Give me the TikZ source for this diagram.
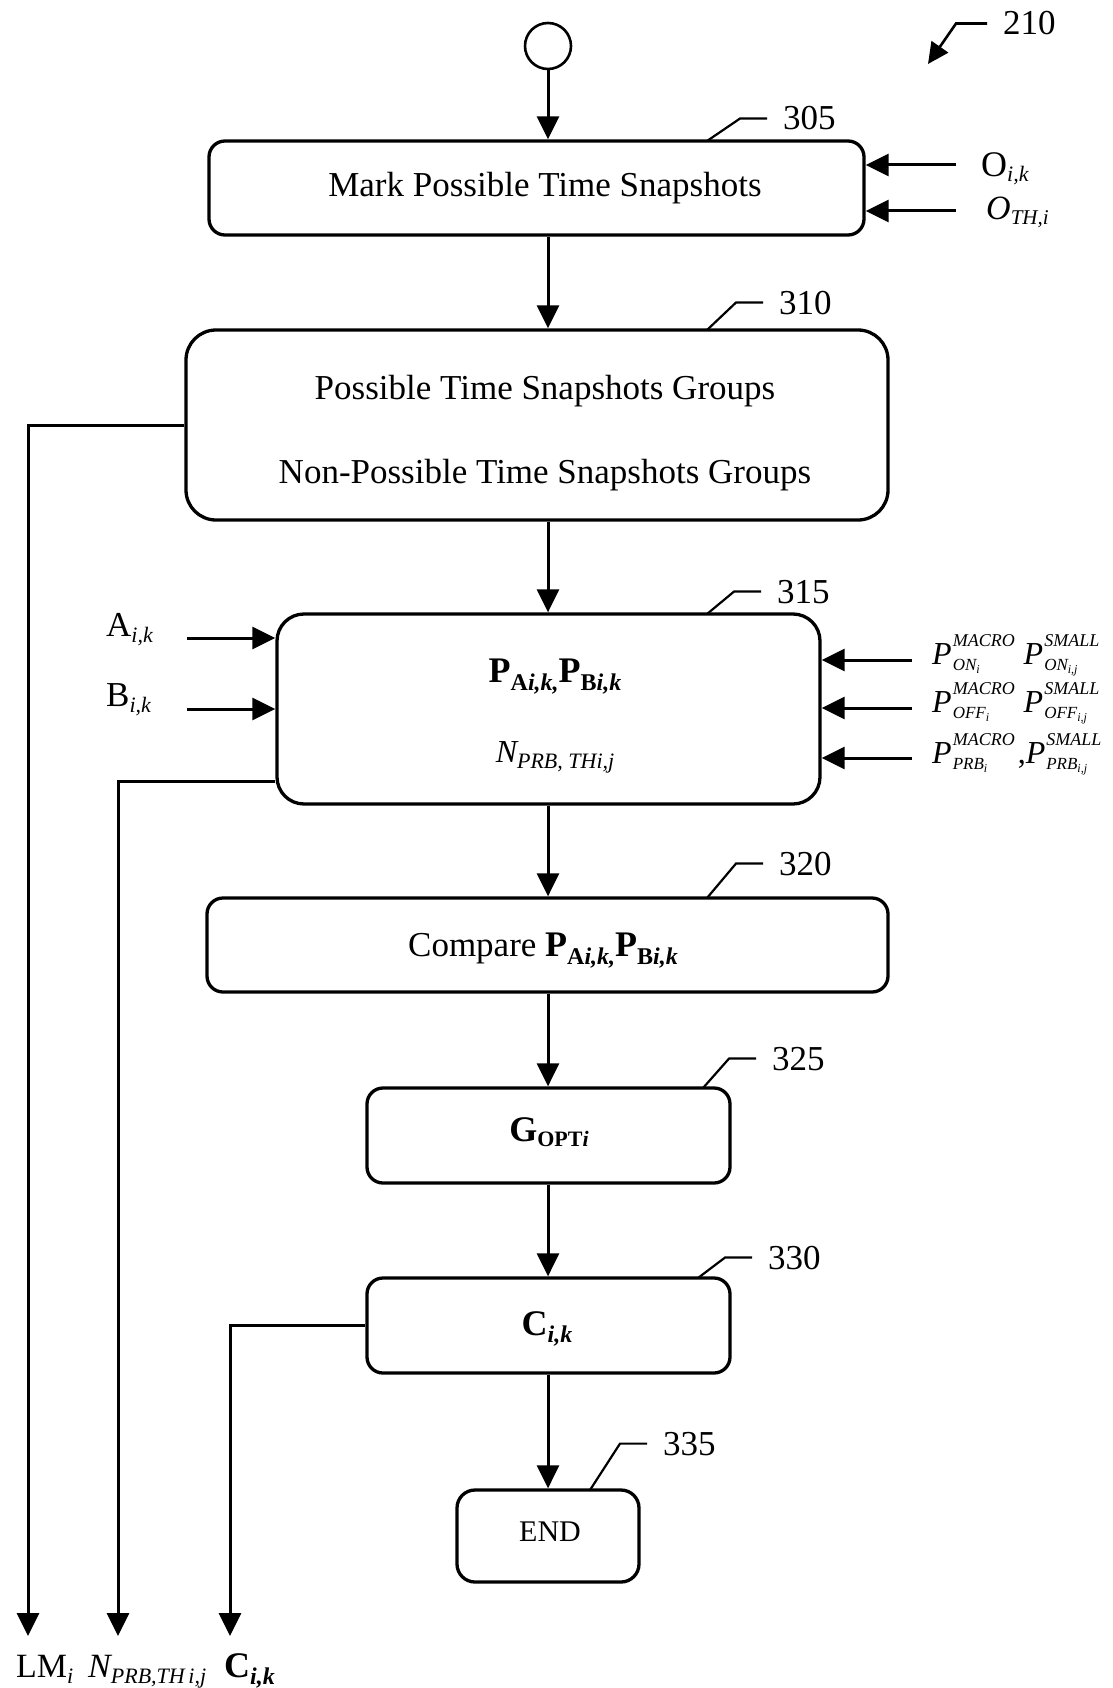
\documentclass[tikz,border=0pt]{standalone}
\usepackage{fontspec}
\setmainfont{Liberation Serif}
\usetikzlibrary{arrows.meta}
% font size shortcut and lowered subscript
\newcommand\fs[1]{\fontsize{#1}{#1}\selectfont}
\newcommand\lo[2]{\raisebox{-#1pt}{#2}}
% stacked superscript / subscript
\newcommand\supsub[2]{%
  \setbox0=\hbox{#1}\setbox2=\hbox{#2}%
  \ifdim\wd0>\wd2\relax\dimen0=\wd0\else\dimen0=\wd2\fi
  \rlap{\raisebox{18pt}{\box0}}\rlap{\raisebox{-6pt}{\box2}}\hspace{\dimen0}}
\newcommand\PSS[3]{{\fs{32}\itshape P}\hspace{1pt}\supsub{\fs{18}\itshape #1}{\fs{17}\itshape #2\lo{3}{\fs{12}\itshape #3}}}
\newcommand\PAB{{\bfseries P}\lo{8}{\fs{24}\bfseries A\itshape i,k,}{\bfseries P}\lo{8}{\fs{24}\bfseries B\itshape i,k}}
\begin{document}
\begin{tikzpicture}[x=1pt,y=-1pt,
  box/.style={draw,line width=3.3pt,rounded corners=16pt,inner sep=0pt},
  bigbox/.style={box,rounded corners=30pt},
  txt/.style={inner sep=0pt,anchor=base,font=\fs{35}},
  lbl/.style={inner sep=0pt,anchor=base west,font=\fs{35}},
  conn/.style={line width=3pt,-{Triangle[length=23pt,width=22pt]}},
  lead/.style={line width=2.2pt}]
\useasboundingbox (0,0) rectangle (1112,1688);

% start terminal
\node[draw,circle,line width=2.6pt,minimum size=46pt,inner sep=0pt] (start) at (548,46) {};

% process boxes
\node[box,minimum width=655pt,minimum height=94pt] (b305) at (536.5,188) {};
\node[bigbox,minimum width=702pt,minimum height=190pt] (b310) at (537,425) {};
\node[bigbox,rounded corners=27pt,minimum width=543pt,minimum height=190pt] (b315) at (548.5,709) {};
\node[box,minimum width=681pt,minimum height=94pt] (b320) at (547.5,945) {};
\node[box,minimum width=363pt,minimum height=95pt] (b325) at (548.5,1135.5) {};
\node[box,minimum width=363pt,minimum height=95pt] (b330) at (548.5,1325.5) {};
\node[box,rounded corners=18pt,minimum width=182pt,minimum height=92pt] (b335) at (548,1536) {};

% box contents
\node[txt] (t305) at (545,197) {Mark Possible Time Snapshots};
\node[txt] (t310a) at (545,399) {Possible Time Snapshots Groups};
\node[txt] (t310b) at (545,483) {Non-Possible Time Snapshots Groups};
\node[txt,font=\fs{36}] (t315a) at (555,682) {\PAB};
\node[txt,font=\fs{32}] (t315b) at (555,762) {\itshape N\lo{6}{\fs{22}\itshape PRB, THi,j}};
\node[txt] (t320) at (543,956) {Compare {\fs{36}\PAB}};
\node[txt,font=\fs{36}] (t325) at (549,1141) {{\bfseries G}\lo{5}{\fs{22}\bfseries OPT\itshape i}};
\node[txt,font=\fs{36}] (t330) at (547,1335) {{\bfseries C}\lo{7}{\fs{24}\bfseries\itshape i,k}};
\node[txt,font=\fs{30}] (t335) at (550,1541) {END};

% main flow
\draw[conn] (start) -- (start |- b305.north);
\draw[conn] (start |- b305.south) -- (start |- b310.north);
\draw[conn] (start |- b310.south) -- (start |- b315.north);
\draw[conn] (start |- b315.south) -- (start |- b320.north);
\draw[conn] (start |- b320.south) -- (start |- b325.north);
\draw[conn] (start |- b325.south) -- (start |- b330.north);
\draw[conn] (start |- b330.south) -- (start |- b335.north);

% inputs to 305
\coordinate (inO) at (956,165);
\coordinate (inOT) at (956,211);
\draw[conn] (inO) -- (inO -| b305.east);
\draw[conn] (inOT) -- (inOT -| b305.east);
\node[lbl,font=\fs{36}] (lO) at (981,177) {O\lo{5}{\fs{22}\itshape i,k}};
\node[lbl,font=\fs{34}] (lOT) at (986,220) {\itshape O\lo{5}{\fs{21}\itshape TH,i}};

% inputs to 315
\coordinate (inA) at (187,638);
\coordinate (inB) at (187,709);
\draw[conn] (inA) -- (inA -| b315.west);
\draw[conn] (inB) -- (inB -| b315.west);
\node[lbl] (lA) at (106,636) {A\lo{6}{\fs{22}\itshape i,k}};
\node[lbl] (lB) at (106,706) {B\lo{6}{\fs{22}\itshape i,k}};

\coordinate (inP1) at (912,660);
\coordinate (inP2) at (912,708);
\coordinate (inP3) at (912,758);
\draw[conn] (inP1) -- (inP1 -| b315.east);
\draw[conn] (inP2) -- (inP2 -| b315.east);
\draw[conn] (inP3) -- (inP3 -| b315.east);
\node[lbl] (lP1) at (932,664) {\PSS{MACRO}{ON}{i}\hspace{9pt}\PSS{SMALL}{ON}{i,j}};
\node[lbl] (lP2) at (932,712) {\PSS{MACRO}{OFF}{i}\hspace{9pt}\PSS{SMALL}{OFF}{i,j}};
\node[lbl] (lP3) at (932,763) {\PSS{MACRO}{PRB}{i}\hspace{3pt}{\fs{32},}\PSS{SMALL}{PRB}{i,j}};

% outputs
\coordinate (eLM) at (28,1636);
\coordinate (eN) at (118,1636);
\coordinate (eC) at (230,1636);
\draw[conn] (b310.west) -| (eLM);
\draw[conn] ([yshift=-72pt]b315.west) -| (eN);
\draw[conn] (b330.west) -| (eC);
\node[lbl,font=\fs{34}] (oLM) at (16,1677) {LM\lo{6}{\fs{22}\itshape i}};
\node[lbl,font=\fs{34}] (oN) at (88,1677) {\itshape N\lo{6}{\fs{22}\itshape PRB,TH\,i,j}};
\node[lbl,font=\fs{36}] (oC) at (224,1677) {{\bfseries C}\lo{7}{\fs{24}\bfseries\itshape i,k}};

% reference numerals
\node[lbl] (l210) at (1003,35) {210};
\coordinate (p210) at (928,64);
\draw[line width=2.6pt,-{Triangle[length=21pt,width=20pt]}] ([xshift=-16pt]l210.west) -- ++(-31,0) -- (p210);

\node[lbl] (l305) at (783,130) {305};
\node[lbl] (l310) at (779,314) {310};
\node[lbl] (l315) at (777,603) {315};
\node[lbl] (l320) at (779,875) {320};
\node[lbl] (l325) at (772,1070) {325};
\node[lbl] (l330) at (768,1269) {330};
\node[lbl] (l335) at (663,1455) {335};
\coordinate (c305) at (707,141);
\coordinate (c310) at (707,330);
\coordinate (c315) at (707,614);
\coordinate (c320) at (707,898);
\coordinate (c325) at (703,1088);
\coordinate (c330) at (698,1278);
\coordinate (c335) at (590,1490);
\foreach \n in {305,310,315,320,325,330,335}
  \draw[lead] ([xshift=-16pt]l\n.west) -- ++(-27,0) -- (c\n);
\end{tikzpicture}
\end{document}
